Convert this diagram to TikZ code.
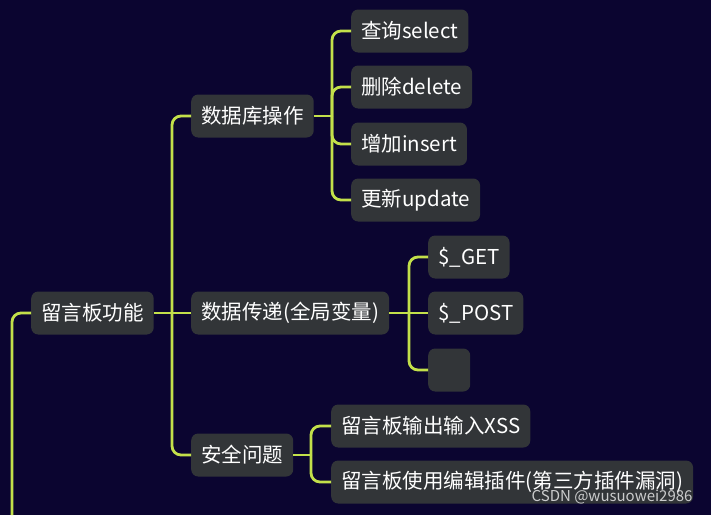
\documentclass[tikz,border=0pt]{standalone}
\usepackage{fontspec}
\setmainfont{Noto Sans CJK SC}
\definecolor{bgc}{HTML}{0B0530}
\definecolor{boxc}{HTML}{323538}
\definecolor{linec}{HTML}{C3E04A}
\begin{document}
\begin{tikzpicture}[x=1pt,y=-1pt,
  box/.style={draw=none,fill=boxc,rounded corners=7pt,text=white,anchor=west,
    minimum height=43pt,inner xsep=10pt,inner ysep=0pt,
    font=\fontsize{20.5}{24}\selectfont},
  link/.style={draw=linec,line width=2.8pt,rounded corners=9pt}]
\fill[bgc] (0,0) rectangle (711,515);
\useasboundingbox (0,0) rectangle (711,515);
% nodes
\node[box] (root) at (31,313) {留言板功能};
\node[box] (db) at (191,116) {数据库操作};
\node[box] (tr) at (191,313) {数据传递(全局变量)};
\node[box] (sec) at (191,455) {安全问题};
\node[box] (sel) at (351,31) {查询select};
\node[box] (del) at (351,87) {删除delete};
\node[box] (ins) at (351,144) {增加insert};
\node[box] (upd) at (351,200) {更新update};
\node[box] (get) at (428,257) {\$\_GET};
\node[box] (post) at (428,313) {\$\_POST};
\node[box,minimum width=42pt] (emp) at (428,370) {};
\node[box] (xss) at (331,426) {留言板输出输入XSS};
\node[box] (plug) at (331,482) {留言板使用编辑插件(第三方插件漏洞)};
% connectors
\coordinate (rootin) at (12,515);
\draw[link] (rootin) |- (root.west);
\coordinate (t1) at (172,313);
\draw[link] (root.east) -- (t1);
\draw[link] (t1) |- (db.west);
\draw[link] (t1) -- (tr.west);
\draw[link] (t1) |- (sec.west);
\coordinate (t2) at (332,116);
\draw[link] (db.east) -- (t2);
\draw[link] (t2) |- (sel.west);
\draw[link] (t2) |- (del.west);
\draw[link] (t2) |- (ins.west);
\draw[link] (t2) |- (upd.west);
\coordinate (t3) at (409,313);
\draw[link] (tr.east) -- (t3);
\draw[link] (t3) |- (get.west);
\draw[link] (t3) -- (post.west);
\draw[link] (t3) |- (emp.west);
\coordinate (t4) at (311,455);
\draw[link] (sec.east) -- (t4);
\draw[link] (t4) |- (xss.west);
\draw[link] (t4) |- (plug.west);
% watermark
\node[anchor=east,text=white,opacity=0.75,font=\fontsize{15}{18}\selectfont] (wm) at (696,497) {CSDN @wusuowei2986};
\end{tikzpicture}
\end{document}
